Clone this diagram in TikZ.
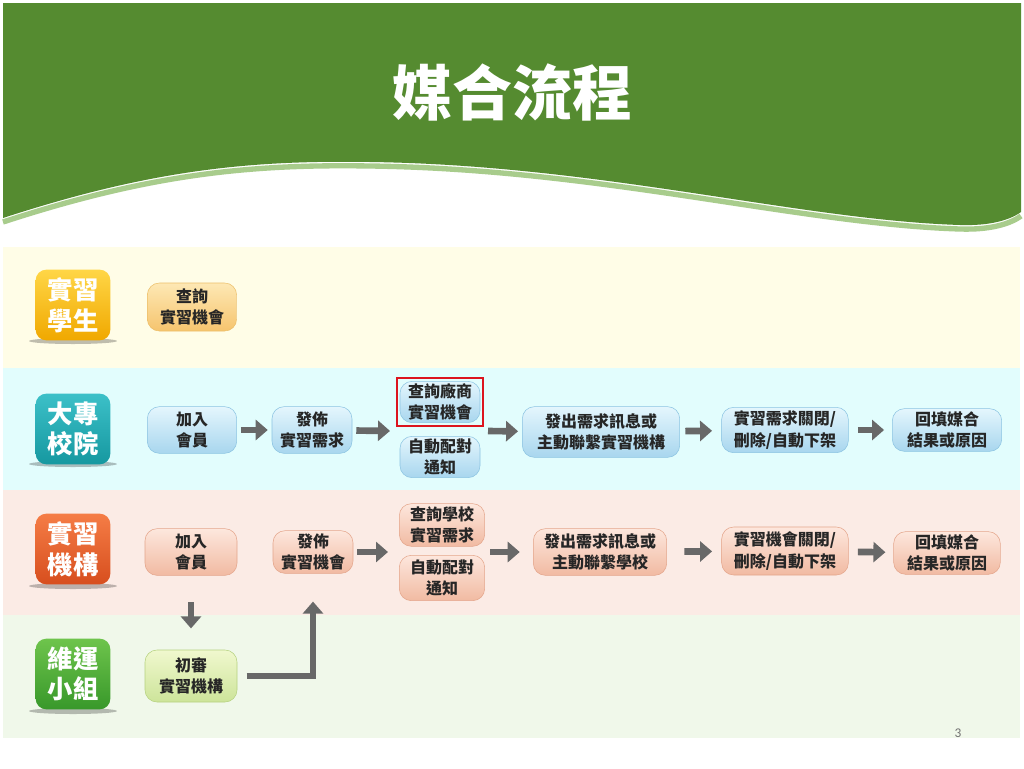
\documentclass[tikz,border=0pt]{standalone}
\usepackage{fontspec}
\setmainfont{Carlito}
\newfontfamily\cjk{Noto Sans CJK TC}
\usetikzlibrary{arrows.meta,fit}

\definecolor{hdgreen}{RGB}{85,139,48}
\definecolor{hdedge}{RGB}{168,204,140}
\definecolor{bandyel}{RGB}{255,253,231}
\definecolor{bandcyan}{RGB}{226,253,253}
\definecolor{bandpink}{RGB}{251,235,229}
\definecolor{bandgrn}{RGB}{240,248,234}
\definecolor{arrowgray}{RGB}{104,104,104}

\tikzset{
  role/.style={rounded corners=8pt, minimum width=56pt, minimum height=53pt,
    inner sep=0pt, align=center, text=white,
    font=\cjk\bfseries\fontsize{19}{23}\selectfont},
  proc/.style={draw, rounded corners=9pt, inner sep=1pt, align=center,
    text=black!85, font=\cjk\bfseries\fontsize{12}{16}\selectfont},
  yelbox/.style={proc, draw={rgb,255:red,236;green,190;blue,105},
    top color={rgb,255:red,253;green,232;blue,180}, bottom color={rgb,255:red,246;green,196;blue,110}},
  bluebox/.style={proc, draw={rgb,255:red,140;green,196;blue,226},
    top color={rgb,255:red,228;green,246;blue,253}, bottom color={rgb,255:red,168;green,214;blue,238}},
  pinkbox/.style={proc, draw={rgb,255:red,228;green,166;blue,140},
    top color={rgb,255:red,253;green,231;blue,221}, bottom color={rgb,255:red,241;green,186;blue,162}},
  grnbox/.style={proc, draw={rgb,255:red,182;green,210;blue,128},
    top color={rgb,255:red,240;green,248;blue,206}, bottom color={rgb,255:red,205;green,228;blue,154}},
  flow/.style={draw=arrowgray, line width=5pt, -{Triangle[length=9pt,width=15pt]},
    shorten <=3pt, shorten >=3pt},
  roleshadow/.style={fill=black, opacity=0.25},
}

\begin{document}
\begin{tikzpicture}[x=0.75pt,y=0.75pt,yscale=-1,xscale=1]
\useasboundingbox (0,0) rectangle (1024,768);
\fill[white] (0,0) rectangle (1024,768);

%Header
\draw[hdedge, line width=4pt] (3,222) .. controls (150,174) and (250,164) .. (370,166) .. controls (600,169) and (800,224) .. (960,229) .. controls (990,230) and (1010,224) .. (1021,216);
\fill[hdgreen] (3,3) -- (1021,3) -- (1021,212) .. controls (1010,220) and (990,226) .. (960,225) .. controls (800,220) and (600,165) .. (370,162) .. controls (250,160) and (150,170) .. (3,218) -- cycle;
% Text Node
\node (title) at (512,92) [text=white, font=\cjk\bfseries\fontsize{45}{50}\selectfont] {媒合流程};

%Bands
\fill[bandyel] (3,247) rectangle (1020,368);
\fill[bandcyan] (3,368) rectangle (1020,490);
\fill[bandpink] (3,490) rectangle (1020,615);
\fill[bandgrn] (3,615) rectangle (1020,738);

%Role labels
\fill[roleshadow] (73,341) ellipse (44 and 3);
\fill[roleshadow] (73,464) ellipse (44 and 3);
\fill[roleshadow] (73,586) ellipse (44 and 3);
\fill[roleshadow] (73,711) ellipse (44 and 3);
\node (stu) at (73,305) [role, top color={rgb,255:red,255;green,214;blue,70}, bottom color={rgb,255:red,240;green,168;blue,0}] {實習\\學生};
\node (sch) at (73,429) [role, top color={rgb,255:red,60;green,192;blue,200}, bottom color={rgb,255:red,22;green,152;blue,160}] {大專\\校院};
\node (org) at (73,549) [role, top color={rgb,255:red,245;green,125;blue,70}, bottom color={rgb,255:red,215;green,78;blue,30}] {實習\\機構};
\node (ops) at (73,674) [role, top color={rgb,255:red,110;green,196;blue,76}, bottom color={rgb,255:red,56;green,152;blue,42}] {維運\\小組};

% Row 1
\node (q1) at (192,307) [yelbox, minimum width=67pt, minimum height=36pt] {查詢\\實習機會};

% Row 2
\node (join2) at (192,430) [bluebox, minimum width=67pt, minimum height=35pt] {加入\\會員};
\node (post2) at (312,430) [bluebox, minimum width=60pt, minimum height=35pt] {發佈\\實習需求};
\node (srch2) at (440,402) [bluebox, minimum width=60pt, minimum height=31pt] {查詢廠商\\實習機會};
\node (note2) at (440,457) [bluebox, minimum width=60pt, minimum height=31pt] {自動配對\\通知};
\node (send2) at (601,432) [bluebox, minimum width=118pt, minimum height=38pt] {發出需求訊息或\\主動聯繫實習機構};
\node (close2) at (785,430) [bluebox, minimum width=95pt, minimum height=34pt] {實習需求關閉/\\刪除/自動下架};
\node (fill2) at (947,430) [bluebox, minimum width=82pt, minimum height=32pt] {回填媒合\\結果或原因};
\node (hl) [draw={rgb,255:red,220;green,20;blue,30}, line width=1.6pt, fit=(srch2), inner xsep=2pt, inner ysep=2pt] {};
\coordinate (in2) at (394,431);
\coordinate (out2) at (484,431);

% Row 3
\node (join3) at (191,552) [pinkbox, minimum width=69pt, minimum height=35pt] {加入\\會員};
\node (post3) at (313,552) [pinkbox, minimum width=60pt, minimum height=32pt] {發佈\\實習機會};
\node (srch3) at (442,525) [pinkbox, minimum width=64pt, minimum height=32pt] {查詢學校\\實習需求};
\node (note3) at (442,578) [pinkbox, minimum width=64pt, minimum height=34pt] {自動配對\\通知};
\node (send3) at (600,552) [pinkbox, minimum width=100pt, minimum height=35pt] {發出需求訊息或\\主動聯繫學校};
\node (close3) at (785,551) [pinkbox, minimum width=95pt, minimum height=36pt] {實習機會關閉/\\刪除/自動下架};
\node (fill3) at (947,553) [pinkbox, minimum width=80pt, minimum height=32pt] {回填媒合\\結果或原因};
\coordinate (in3) at (392,552);
\coordinate (out3) at (486,552);

% Row 4
\node (rev4) at (191,676) [grnbox, minimum width=69pt, minimum height=39pt] {初審\\實習機構};

%Arrows
\draw[flow] (join2) -- (post2);
\draw[flow] (post2) -- (in2);
\draw[flow] (out2) -- (send2);
\draw[flow, shorten <=4pt, shorten >=7pt] (send2) -- (close2);
\draw[flow, shorten <=7pt, shorten >=6pt] (close2) -- (fill2);
\draw[flow] (post3) -- (in3);
\draw[flow, shorten >=10pt] (out3) -- (send3);
\draw[flow, shorten <=13pt, shorten >=7pt] (send3) -- (close3);
\draw[flow, shorten <=7pt, shorten >=6pt] (close3) -- (fill3);
\draw[flow, shorten <=20pt, shorten >=16pt] (join3) -- (rev4);
\draw[flow, shorten <=7pt, shorten >=21pt] (rev4.east) -| (post3.south);

% Text Node
\node (pg) at (958,733) [text=black!55, font=\fontsize{10}{12}\selectfont] {3};

\end{tikzpicture}
\end{document}
